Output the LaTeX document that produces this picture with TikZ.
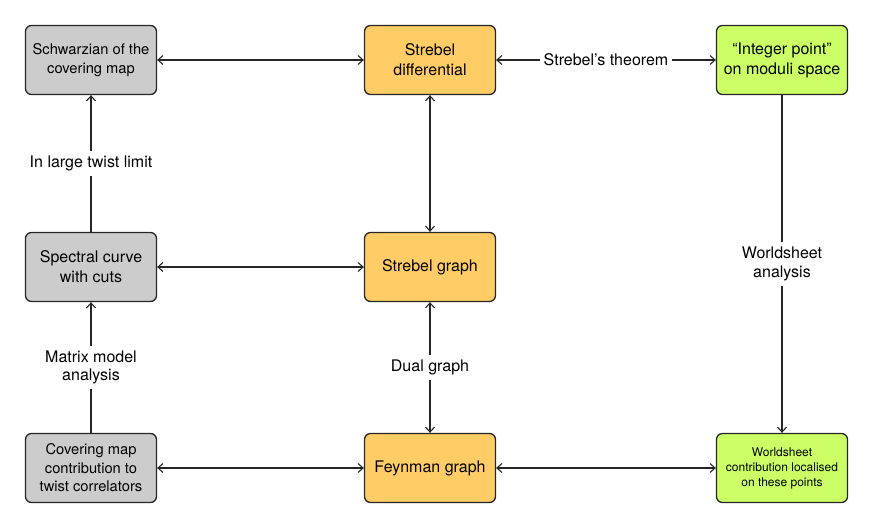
\documentclass[tikz,border=0pt]{standalone}
\usepackage{fontspec}
\setmainfont{TeX Gyre Heros}
\usetikzlibrary{arrows.meta}
\definecolor{boxgrey}{HTML}{CCCCCC}
\definecolor{boxorange}{HTML}{FFCC66}
\definecolor{boxgreen}{HTML}{CCFF66}

\begin{document}
\begin{tikzpicture}[x=1pt, y=-1pt,
		box/.style={draw=black!85, line width=1.3pt, rounded corners=6pt,
			minimum width=131pt, minimum height=69pt, align=center, inner sep=2pt,
			font=\fontsize{16}{20}\selectfont},
		conn/.style={line width=1.1pt, draw=black!85,
			>={Straight Barb[length=5pt,width=9pt]}},
		lbl/.style={fill=white, align=center, inner xsep=4pt, inner ysep=5pt,
			font=\fontsize{16}{18.5}\selectfont}]
		\useasboundingbox (0,0) rectangle (872,528);
		% boxes
		\node [box, fill=boxgrey, font=\fontsize{14.7}{18.5}\selectfont] (schwarz) at (91,60) {Schwarzian of the\\covering map};
		\node [box, fill=boxorange] (sdiff) at (430,60) {Strebel\\differential};
		\node [box, fill=boxgreen] (intpt) at (782,60) {``Integer point''\\on moduli space};
		\node [box, fill=boxgrey] (spec) at (91,267) {Spectral curve\\with cuts};
		\node [box, fill=boxorange] (sgraph) at (430,267) {Strebel graph};
		\node [box, fill=boxgrey, font=\fontsize{14.7}{18.5}\selectfont] (cover) at (91,468) {Covering map\\contribution to\\twist correlators};
		\node [box, fill=boxorange] (feyn) at (430,468) {Feynman graph};
		\node [box, fill=boxgreen, font=\fontsize{12}{15}\selectfont] (wsloc) at (782,468) {Worldsheet\\contribution localised\\on these points};
		% connectors
		\draw [conn, <->] (schwarz) -- (sdiff);
		\draw [conn, <->] (sdiff) -- node [lbl] {Strebel's theorem} (intpt);
		\draw [conn, <->] (sdiff) -- (sgraph);
		\draw [conn, ->] (spec) -- node [lbl] {In large twist limit} (schwarz);
		\draw [conn, <->] (spec) -- (sgraph);
		\draw [conn, <->] (sgraph) -- node [lbl] {Dual graph} (feyn);
		\draw [conn, ->] (cover) -- node [lbl] {Matrix model\\analysis} (spec);
		\draw [conn, <->] (cover) -- (feyn);
		\draw [conn, <->] (feyn) -- (wsloc);
		\draw [conn, ->] (intpt) -- node [lbl] {Worldsheet\\analysis} (wsloc);
	\end{tikzpicture}
\end{document}
